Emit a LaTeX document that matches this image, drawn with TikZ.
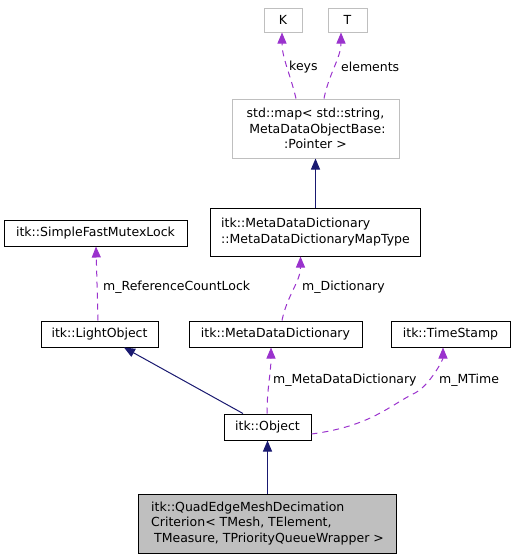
\documentclass[tikz,border=0pt]{standalone}
\usepackage{fontspec}
\setmainfont{DejaVu Sans}
\usetikzlibrary{arrows.meta}
\definecolor{navy}{HTML}{191970}
\definecolor{dep}{HTML}{9A32CD}
\definecolor{grayb}{HTML}{BFBFBF}
\begin{document}
\begin{tikzpicture}[x=1pt,y=-1pt,
  font=\fontsize{12.5}{15.5}\selectfont,
  box/.style={draw=black,line width=1pt,inner sep=0pt,fill=white},
  gbox/.style={draw=grayb,line width=1pt,inner sep=0pt,fill=white},
  inh/.style={draw=navy,line width=1pt,-{Triangle[length=11pt,width=9pt]}},
  use/.style={draw=dep,line width=1pt,dash pattern=on 6pt off 5pt,-{Triangle[length=11pt,width=9pt]}},
  lab/.style={anchor=west,inner sep=0pt}]
\useasboundingbox (0,0) rectangle (515,560);
\node[gbox,minimum width=38pt,minimum height=24pt] (K) at (283,20) {K};
\node[gbox,minimum width=39pt,minimum height=24pt] (T) at (347.5,20) {T};
\node[gbox,minimum width=167pt,minimum height=59pt,align=center] (map) at (315.5,128.5) {std::map< std::string,\\\ MetaDataObjectBase:\\:Pointer >};
\node[box,minimum width=210pt,minimum height=48pt,align=left] (mt) at (315.5,232) {itk::MetaDataDictionary\\::MetaDataDictionaryMapType};
\node[box,minimum width=183pt,minimum height=26pt] (sfm) at (95.5,233) {itk::SimpleFastMutexLock};
\node[box,minimum width=117pt,minimum height=26pt] (lo) at (99.5,334) {itk::LightObject};
\node[box,minimum width=173pt,minimum height=26pt] (mdd) at (275.5,334) {itk::MetaDataDictionary};
\node[box,minimum width=119pt,minimum height=26pt] (ts) at (450.5,334) {itk::TimeStamp};
\node[box,minimum width=87pt,minimum height=26pt] (obj) at (267.5,427) {itk::Object};
\node[box,fill=grayb,minimum width=258pt,minimum height=59pt,align=left] (q) at (267.5,523.5) {itk::QuadEdgeMeshDecimation\\Criterion< TMesh, TElement,\\\hspace*{3pt}TMeasure, TPriorityQueueWrapper >};
% edges
\draw[use] ([xshift=-19.5pt]map.north) .. controls +(-6,-25) and +(0,25) .. ([xshift=-1pt]K.south);
\node[lab] (lkeys) at (289,67) {keys};
\draw[use] ([xshift=8.5pt]map.north) .. controls +(5,-25) and +(0,25) .. ([xshift=-6.5pt]T.south);
\node[lab] (lel) at (341,67) {elements};
\draw[inh] (mt.north) -- (map.south);
\draw[use] ([xshift=6.5pt]mdd.north) .. controls +(5,-25) and +(0,25) .. ([xshift=-15pt]mt.south);
\node[lab] (ldict) at (302,287) {m\_Dictionary};
\draw[use] ([xshift=-1.5pt]lo.north) -- ([xshift=0.5pt]sfm.south);
\node[lab] (lrcl) at (103,287) {m\_ReferenceCountLock};
\draw[inh] ([xshift=-24.5pt]obj.north) -- ([xshift=24.5pt]lo.south);
\draw[use] ([xshift=-0.5pt]obj.north) .. controls +(0,-25) and +(0,25) .. ([xshift=-4.5pt]mdd.south);
\node[lab] (lmdd) at (273,380) {m\_MetaDataDictionary};
\draw[use] ([yshift=-7pt]obj.east) .. controls +(60,-8) and +(-25,12) .. (415,393) .. controls +(15,-8) and +(0,12) .. ([xshift=-7.5pt]ts.south);
\node[lab] (lmt) at (439,380) {m\_MTime};
\draw[inh] (q.north) -- (obj.south);
\end{tikzpicture}
\end{document}
